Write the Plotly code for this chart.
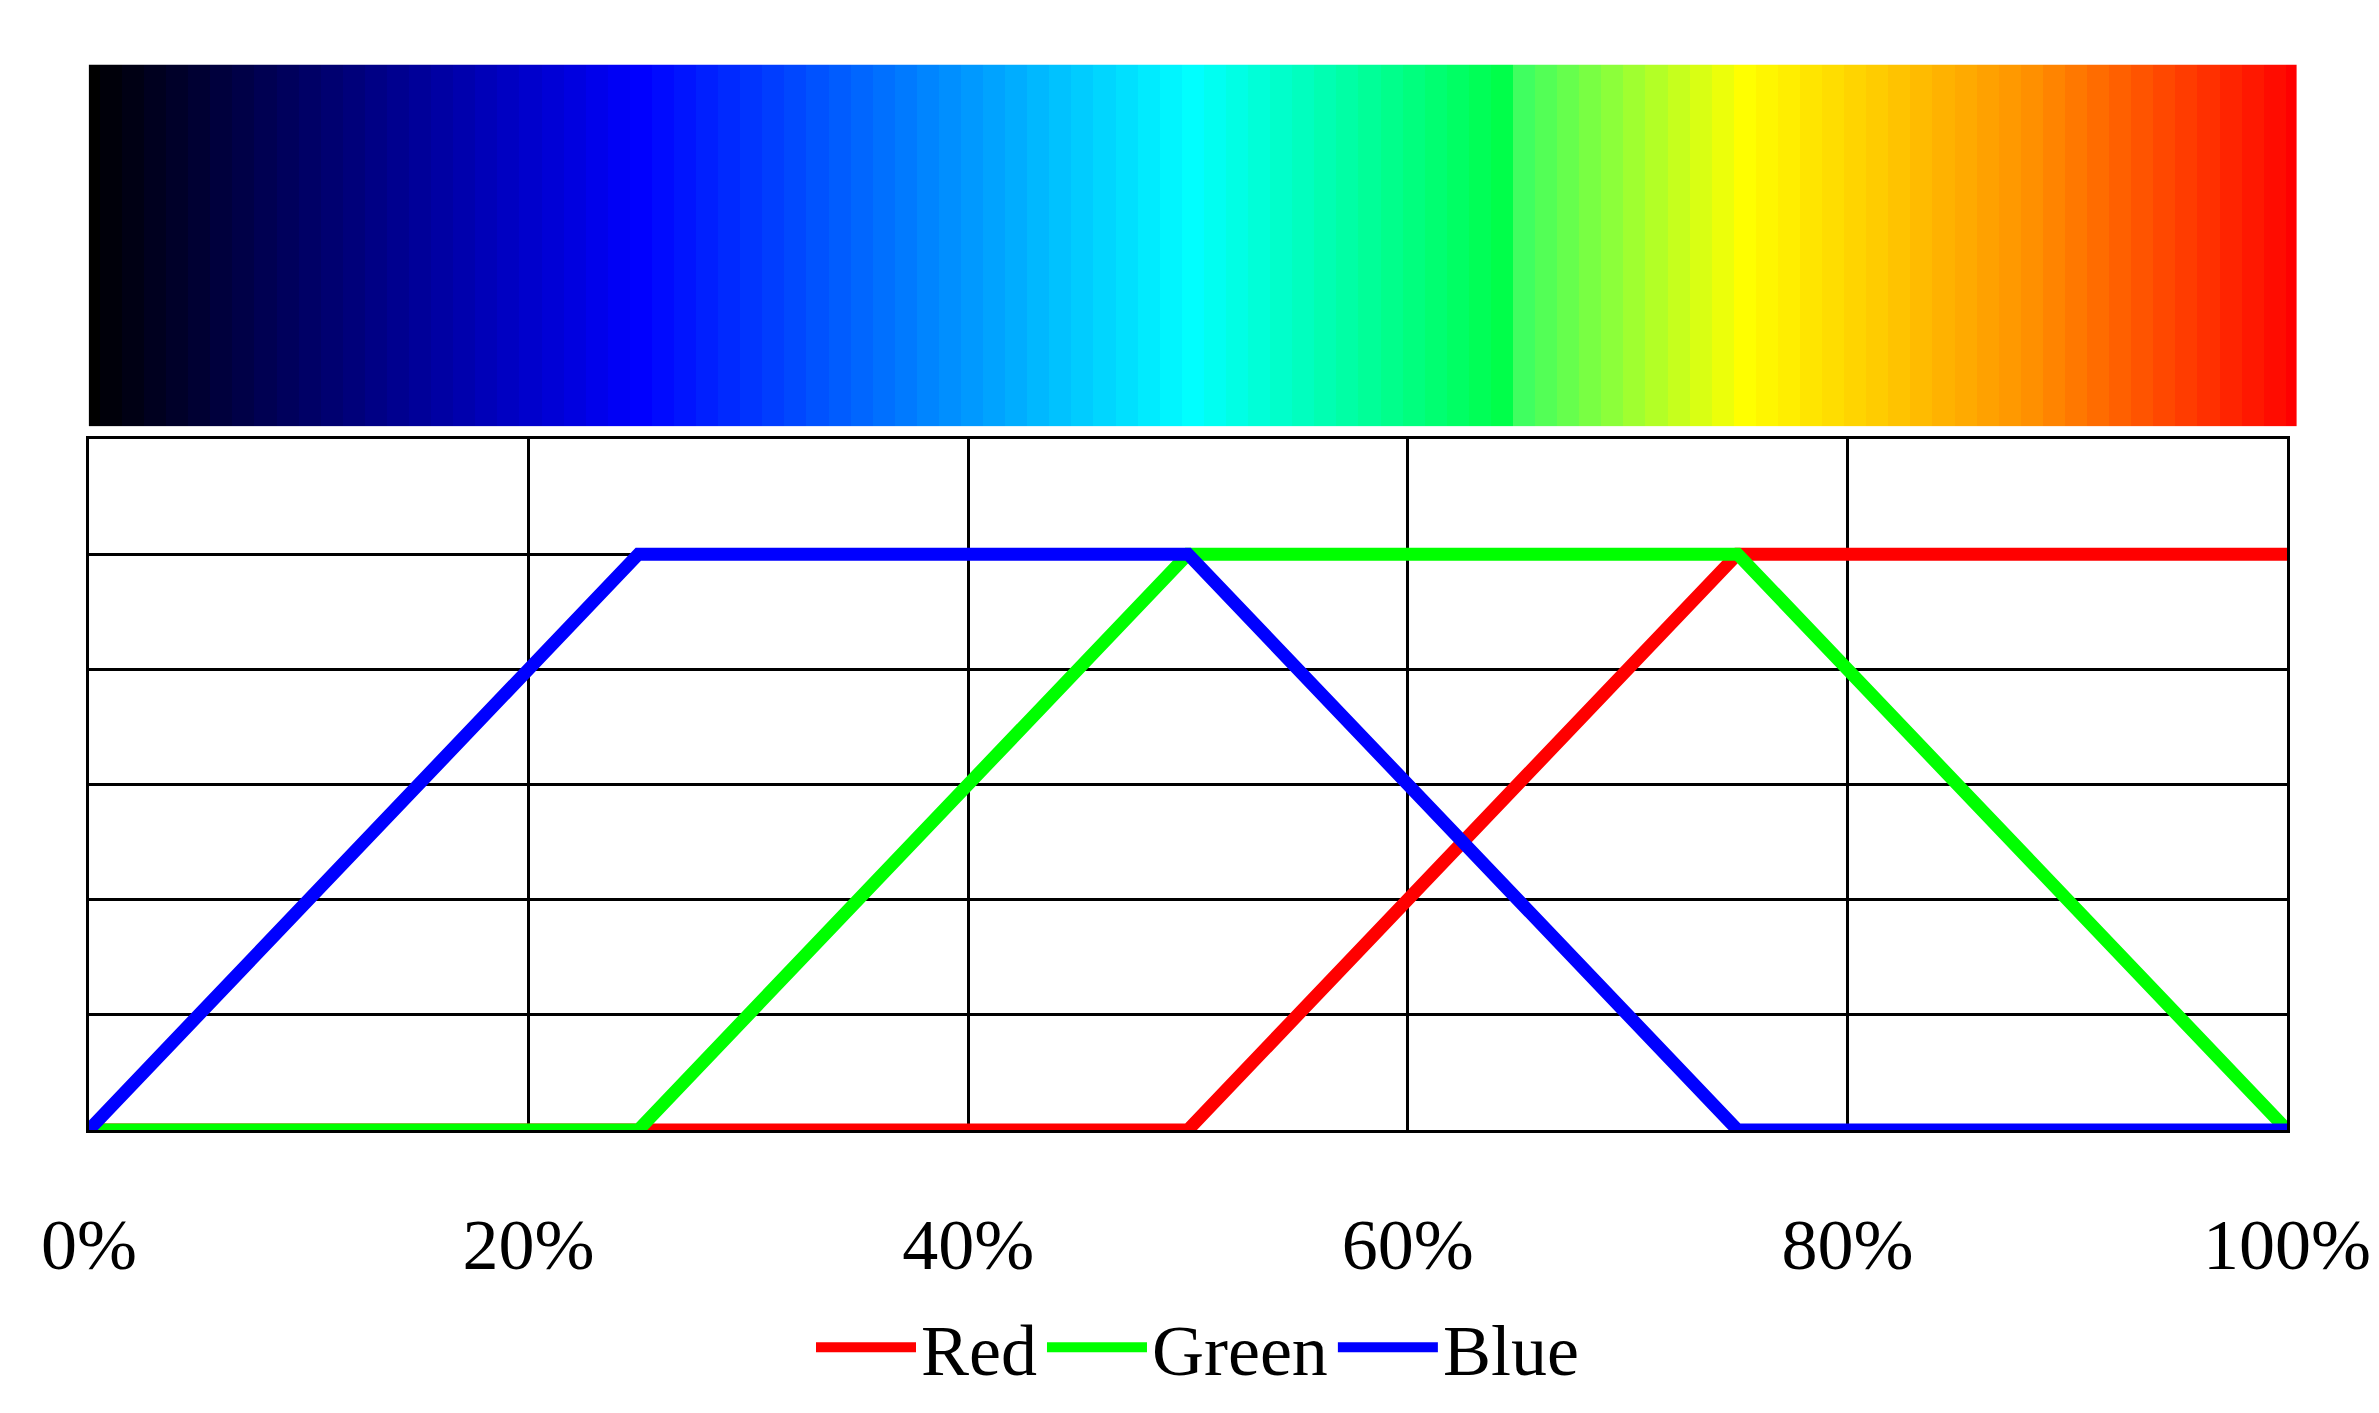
import plotly.graph_objects as go

x = [0, 25, 50, 75, 100]
red = [0, 0, 0, 1, 1]
green = [0, 0, 1, 1, 0]
blue = [0, 1, 1, 0, 0]
tick_vals = [0, 20, 40, 60, 80, 100]
tick_text = ["0%", "20%", "40%", "60%", "80%", "100%"]

bar_x = list(range(0, 101))
bar_scale = [
    [0.0, "#000000"], [0.25, "#0000ff"], [0.5, "#00ffff"],
    [0.645, "#00ff44"], [0.65, "#40ff60"], [0.75, "#ffff00"],
    [0.88, "#ff9000"], [1.0, "#ff0000"],
]

fig = go.Figure()
fig.add_trace(go.Heatmap(x=bar_x, y=[0], z=[bar_x], colorscale=bar_scale,
                         showscale=False, xaxis="x2", yaxis="y2", hoverinfo="skip"))
for name, ys, col in [("Red", red, "#ff0000"), ("Green", green, "#00ff00"), ("Blue", blue, "#0000ff")]:
    fig.add_trace(go.Scatter(x=x, y=ys, name=name, mode="lines",
                             line=dict(color=col, width=13)))

fig.update_layout(
    width=2379, height=1413, plot_bgcolor="white", paper_bgcolor="white",
    margin=dict(l=0, r=0, t=0, b=0, autoexpand=False),
    font=dict(family="Liberation Serif", size=75, color="black"),
    xaxis=dict(domain=[0.034, 0.958], range=[0, 100], tickvals=tick_vals, ticktext=tick_text,
               showgrid=True, gridcolor="black", gridwidth=3, showline=True, linecolor="black",
               linewidth=3, mirror=True, zeroline=False, ticks="", ticklabelstandoff=50,
               tickfont=dict(size=72), automargin=False),
    yaxis=dict(domain=[0.206, 0.695], range=[0, 1.2], dtick=0.2, showticklabels=False,
               showgrid=True, gridcolor="black", gridwidth=3, showline=True, linecolor="black",
               linewidth=3, mirror=True, zeroline=False, automargin=False),
    xaxis2=dict(domain=[0.034, 0.962], range=[0, 100], visible=False, anchor="y2"),
    yaxis2=dict(domain=[0.704, 0.96], range=[-0.5, 0.5], visible=False, anchor="x2"),
    legend=dict(orientation="h", x=0.5, xanchor="center", y=0.052, yanchor="middle",
                font=dict(size=72), itemwidth=100),
)
fig.write_html("out.html")
